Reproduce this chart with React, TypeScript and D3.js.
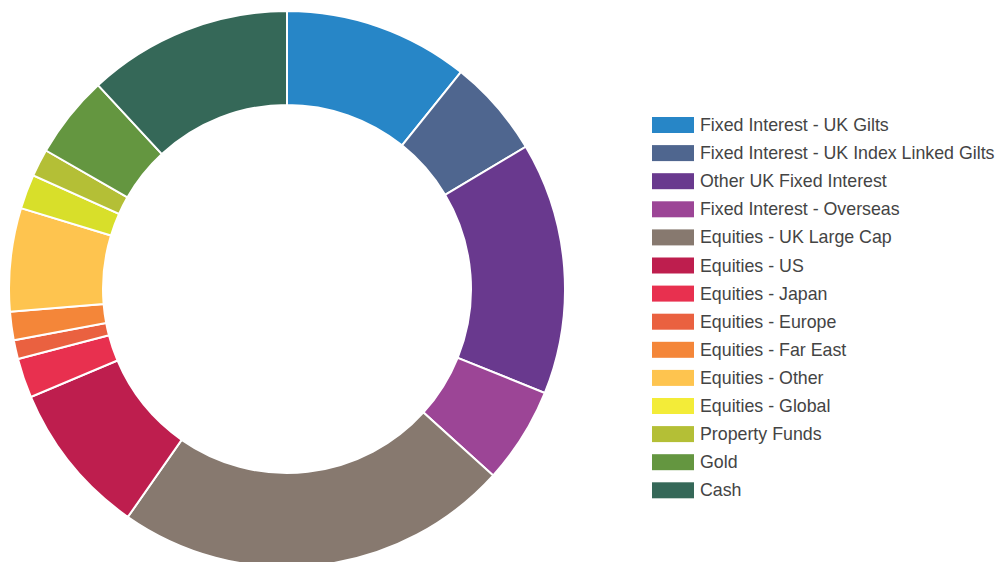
import React from "react";
import * as d3 from "d3";

const categories = [
  "Fixed Interest - UK Gilts",
  "Fixed Interest - UK Index Linked Gilts",
  "Other UK Fixed Interest",
  "Fixed Interest - Overseas",
  "Equities - UK Large Cap",
  "Equities - US",
  "Equities - Japan",
  "Equities - Europe",
  "Equities - Far East",
  "Equities - Other",
  "Equities - Global",
  "Property Funds",
  "Gold",
  "Cash",
];

const values = [10.75, 5.7, 14.65, 5.6, 23.0, 8.95, 2.3, 1.1, 1.65, 6.0, 2.0, 1.6, 4.8, 11.9];

const sliceColors = [
  "#2786C7", "#4F668F", "#69398E", "#9C4596", "#87796F", "#BE1E4E", "#E8304F",
  "#EA6140", "#F48639", "#FEC44F", "#D8DF2A", "#B4BF36", "#649640", "#356858",
];

const legendColors = [
  "#2786C7", "#4F668F", "#69398E", "#9C4596", "#87796F", "#BE1E4E", "#E8304F",
  "#EA6140", "#F48639", "#FEC44F", "#F3EC38", "#B4BF36", "#649640", "#356858",
];

export default function App() {
  const width = 997;
  const height = 562;
  const cx = 287;
  const cy = 289;
  const outerR = 278;
  const innerR = 184;

  const pie = d3.pie<number>().sort(null).value((d) => d);
  const arcs = pie(values);
  const arcGen = d3.arc<d3.PieArcDatum<number>>().innerRadius(innerR).outerRadius(outerR);

  const legendX = 652;
  const legendY = 117;
  const rowH = 28.1;

  return (
    <svg
      width={width}
      height={height}
      style={{ position: "absolute", left: 0, top: 0, background: "#fff" }}
    >
      <g transform={`translate(${cx},${cy})`}>
        {arcs.map((a, i) => (
          <path key={i} d={arcGen(a) || ""} fill={sliceColors[i]} stroke="#fff" strokeWidth={2} />
        ))}
      </g>
      <g fontFamily="'Liberation Sans', Arial, sans-serif" fontSize={17.8} fill="#444">
        {categories.map((c, i) => (
          <g key={c} transform={`translate(${legendX},${legendY + i * rowH})`}>
            <rect x={0} y={0} width={42} height={16} fill={legendColors[i]} />
            <text x={48} y={14}>{c}</text>
          </g>
        ))}
      </g>
    </svg>
  );
}
